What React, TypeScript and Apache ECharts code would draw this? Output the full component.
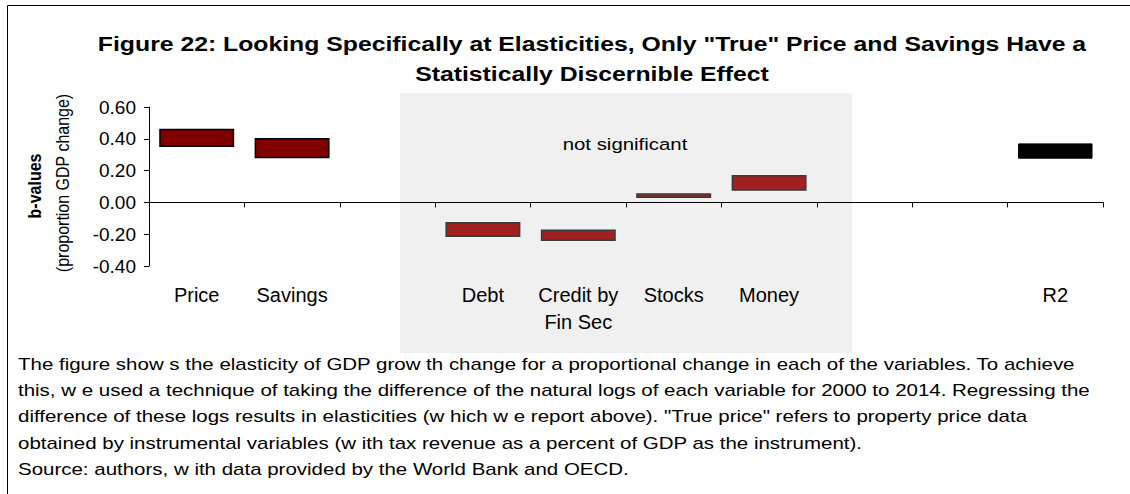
import React, { useEffect, useRef } from "react";
import * as echarts from "echarts";

const categories = ["Price", "Savings", "", "Debt", "Credit by\nFin Sec", "Stocks", "Money", "", "", "R2"];
const lows: (number | null)[] = [0.353, 0.282, null, -0.213, -0.238, 0.032, 0.078, null, null, 0.278];
const highs: (number | null)[] = [0.459, 0.4, null, -0.128, -0.175, 0.053, 0.168, null, null, 0.368];
const kinds = ["sig", "sig", "", "ns", "ns", "ns", "ns", "", "", "r2"];
const yTicks = { min: -0.4, max: 0.6, interval: 0.2 };

const titleLines = [
  'Figure 22: Looking Specifically at Elasticities, Only "True" Price and Savings Have a',
  "Statistically Discernible Effect",
];
const noteLines = [
  "The figure show s the elasticity of GDP grow th change for a proportional change in each of the variables. To achieve",
  "this, w e used a technique of taking the difference of the natural logs of each variable for 2000 to 2014. Regressing the",
  'difference of these logs results in elasticities (w hich w e report above). "True price" refers to property price data',
  "obtained by instrumental variables (w ith tax revenue as a percent of GDP as the instrument).",
  "Source: authors, w ith data provided by the World Bank and OECD.",
];

const FONT = "'Liberation Sans', Arial, sans-serif";
const STRETCH = 1.2;

const styles: Record<string, any> = {
  sig: { fill: "#800000", stroke: "#000000", lineWidth: 1.5 },
  ns: { fill: "#a01f1f", stroke: "#3a3a3a", lineWidth: 1.5 },
  r2: { fill: "#000000", stroke: "#000000", lineWidth: 1 },
};

export default function App() {
  const ref = useRef<HTMLDivElement>(null);
  useEffect(() => {
    document.body.style.margin = "0";
    const chart = echarts.init(ref.current!, null, { renderer: "svg" });
    const data = categories
      .map((_, i) => (lows[i] == null ? null : [i, lows[i], highs[i]]))
      .filter((d) => d != null);
    chart.setOption({
      animation: false,
      backgroundColor: "#ffffff",
      grid: { left: 149, right: 27, top: 107, height: 159 },
      xAxis: [
        {
          type: "category",
          data: categories,
          axisLine: { onZero: true, lineStyle: { color: "#000", width: 1 } },
          axisTick: { show: true, length: 5, lineStyle: { color: "#000" } },
          axisLabel: { show: false },
          splitLine: { show: false },
        },
        {
          type: "category",
          data: categories,
          position: "bottom",
          axisLine: { show: false, onZero: false },
          axisTick: { show: false },
          axisLabel: {
            show: true,
            interval: 0,
            margin: 15,
            fontFamily: FONT,
            fontSize: 20,
            color: "#000",
            lineHeight: 27,
          },
          splitLine: { show: false },
        },
      ],
      yAxis: {
        type: "value",
        min: yTicks.min,
        max: yTicks.max,
        interval: yTicks.interval,
        axisLine: { show: true, lineStyle: { color: "#000", width: 1 } },
        axisTick: { show: true, length: 5, lineStyle: { color: "#000" } },
        axisLabel: {
          margin: 13,
          fontFamily: FONT,
          fontSize: 19,
          color: "#000",
          formatter: (v: number) => v.toFixed(2),
        },
        splitLine: { show: false },
      },
      graphic: {
        elements: [
          {
            type: "rect",
            z: -10,
            shape: { x: 400, y: 93, width: 452, height: 260 },
            style: { fill: "#f0f0f0" },
            silent: true,
          },
          {
            type: "rect",
            z: -20,
            shape: { x: 7.5, y: 5.5, width: 1200, height: 600 },
            style: { fill: "none", stroke: "#000", lineWidth: 1 },
            silent: true,
          },
          ...titleLines.map((t, i) => ({
            type: "text",
            x: 592,
            y: 44 + i * 30,
            scaleX: 1.18,
            style: {
              text: t,
              fontFamily: FONT,
              fontSize: 21,
              fontWeight: "bold",
              fill: "#000",
              align: "center",
              verticalAlign: "middle",
            },
          })),
          {
            type: "text",
            x: 625,
            y: 144,
            scaleX: STRETCH,
            style: {
              text: "not significant",
              fontFamily: FONT,
              fontSize: 17,
              fill: "#000",
              align: "center",
              verticalAlign: "middle",
            },
          },
          {
            type: "text",
            x: 34,
            y: 186,
            rotation: Math.PI / 2,
            scaleY: STRETCH,
            style: {
              text: "b-values",
              fontFamily: FONT,
              fontSize: 16,
              fontWeight: "bold",
              fill: "#000",
              align: "center",
              verticalAlign: "middle",
            },
          },
          {
            type: "text",
            x: 62,
            y: 183,
            rotation: Math.PI / 2,
            scaleY: STRETCH,
            style: {
              text: "(proportion GDP change)",
              fontFamily: FONT,
              fontSize: 16,
              fill: "#000",
              align: "center",
              verticalAlign: "middle",
            },
          },
          ...noteLines.map((t, i) => ({
            type: "text",
            x: 18,
            y: 364 + i * 26.3,
            scaleX: 1.205,
            style: {
              text: t,
              fontFamily: FONT,
              fontSize: 17,
              fill: "#000",
              align: "left",
              verticalAlign: "middle",
            },
          })),
        ],
      },
      series: [
        {
          type: "custom",
          xAxisIndex: 0,
          yAxisIndex: 0,
          data,
          renderItem: (params: any, api: any) => {
            const i = api.value(0);
            const lo = api.value(1);
            const hi = api.value(2);
            const p1 = api.coord([i, hi]);
            const p2 = api.coord([i, lo]);
            const w = api.size([1, 0])[0] * 0.77;
            const st = styles[kinds[i]];
            return {
              type: "rect",
              shape: { x: p1[0] - w / 2, y: p1[1], width: w, height: p2[1] - p1[1] },
              style: { fill: st.fill, stroke: st.stroke, lineWidth: st.lineWidth },
            };
          },
        },
      ],
    });
    return () => chart.dispose();
  }, []);
  return <div ref={ref} style={{ width: 1130, height: 494 }} />;
}
